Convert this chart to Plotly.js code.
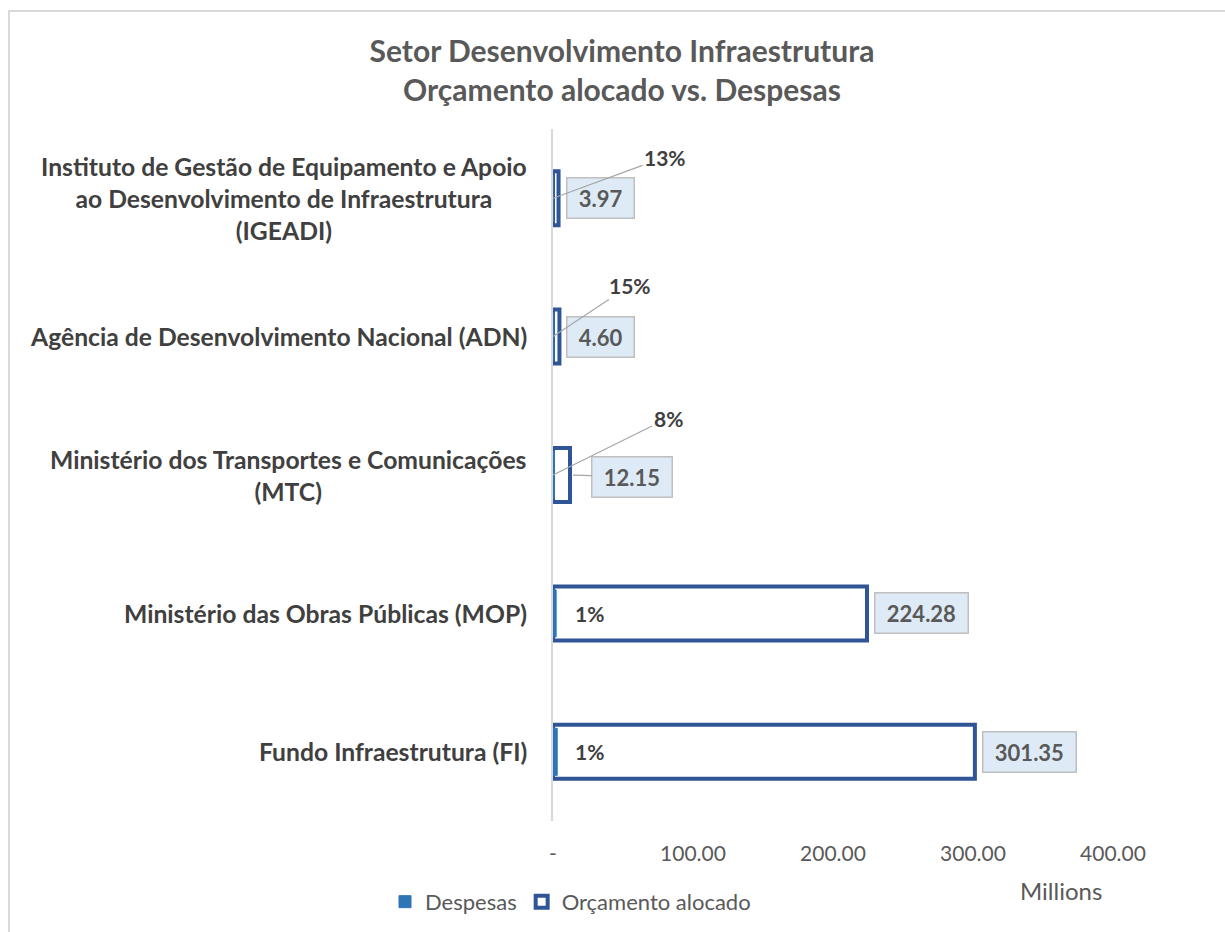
<!DOCTYPE html>
<html>
<head>
<meta charset="utf-8">
<script src="https://cdn.plot.ly/plotly-3.0.1.min.js"></script>
<style>
  body { margin: 0; background: #ffffff; overflow: hidden; }
  #chart { position: absolute; left: 0; top: 0; width: 1225px; height: 932px; }
  #frame { position: absolute; left: 8px; top: 10px; width: 1400px; height: 1100px;
           border: 2px solid #D9D9D9; pointer-events: none; }
</style>
</head>
<body>
<div id="chart"></div>
<div id="frame"></div>
<script>
// ---- data ----
const categories = [
  "Instituto de Gestão de Equipamento e Apoio<br>ao Desenvolvimento de Infraestrutura<br>(IGEADI)",
  "Agência de Desenvolvimento Nacional (ADN)",
  "Ministério dos Transportes e Comunicações<br>(MTC)",
  "Ministério das Obras Públicas (MOP)",
  "Fundo Infraestrutura (FI)"
];
const orcamentoAlocado = [3.97, 4.60, 12.15, 224.28, 301.35];   // millions
const despesas = [0.52, 0.69, 0.97, 2.24, 3.01];                // millions
const execucaoLabels = ["13%", "15%", "8%", "1%", "1%"];
const xTickVals = [0, 100, 200, 300, 400];
const xTickText = ["-", "100.00", "200.00", "300.00", "400.00"];

// ---- styling (not data) ----
const FONT = "Lato, 'Open Sans', sans-serif";
const NB = "\u00A0";
const pctInside = [false, false, false, true, true];
const pctOffsets = [[112, -41], [77, -51], [115, -57], null, null];
const valueLeader = [null, null, 62, null, null];   // pixel offset of label with a leader line

const traces = [
  {
    type: "bar", orientation: "h", name: "Orçamento alocado",
    y: categories, x: orcamentoAlocado, width: 0.39,
    marker: { color: "#FFFFFF", line: { color: "#2F5597", width: 4 } },
    hoverinfo: "x+y"
  },
  {
    type: "bar", orientation: "h", name: "Despesas",
    y: categories, x: despesas, width: 0.34,
    marker: { color: "#2E75B6", line: { color: "#2E75B6", width: 1 } },
    hoverinfo: "x+y"
  }
];

const annotations = [];
categories.forEach((c, i) => {
  // category label (centered multi-line block, right aligned to axis)
  annotations.push({
    xref: "paper", yref: "y", x: 0, y: c, xanchor: "right", yanchor: "middle",
    xshift: -24, align: "center", showarrow: false, text: c,
    font: { family: FONT, size: 24.7, color: "#404040", weight: "bold" }
  });
  // budget value label
  const valueAnn = {
    xref: "x", yref: "y", x: orcamentoAlocado[i], y: c,
    text: NB + orcamentoAlocado[i].toFixed(2) + NB,
    bgcolor: "#DEEBF7", bordercolor: "#BFBFBF", borderwidth: 1.5, borderpad: 6,
    font: { family: FONT, size: 22, color: "#595959", weight: "bold" }
  };
  if (valueLeader[i] !== null) {
    Object.assign(valueAnn, {
      showarrow: true, arrowhead: 0, arrowwidth: 1.2, arrowcolor: "#A6A6A6",
      ax: valueLeader[i], ay: 2, standoff: 3
    });
  } else {
    Object.assign(valueAnn, { showarrow: false, xanchor: "left", yanchor: "middle", xshift: 7 });
  }
  annotations.push(valueAnn);
  // execution percentage label
  if (pctInside[i]) {
    annotations.push({
      xref: "x", yref: "y", x: 0, y: c, xanchor: "left", yanchor: "middle",
      xshift: 20, showarrow: false, text: execucaoLabels[i],
      font: { family: FONT, size: 21, color: "#404040", weight: "bold" }
    });
  } else {
    annotations.push({
      xref: "x", yref: "y", x: 0, y: c, showarrow: true, arrowhead: 0,
      arrowwidth: 1.2, arrowcolor: "#A6A6A6", ax: pctOffsets[i][0], ay: pctOffsets[i][1],
      text: execucaoLabels[i], standoff: 0,
      font: { family: FONT, size: 21, color: "#404040", weight: "bold" }
    });
  }
});
annotations.push({
  xref: "paper", yref: "paper", x: (1061 - 553) / 560, y: -0.1, xanchor: "center", yanchor: "middle",
  showarrow: false, text: "Millions",
  font: { family: FONT, size: 24, color: "#595959" }
});

const layout = {
  width: 1225, height: 932,
  paper_bgcolor: "rgba(0,0,0,0)", plot_bgcolor: "rgba(0,0,0,0)",
  margin: { l: 553, r: 112, t: 129, b: 111, autoexpand: false },
  title: {
    text: "<b>Setor Desenvolvimento Infraestrutura<br>Orçamento alocado vs. Despesas</b>",
    x: 622 / 1225, xanchor: "center", y: 1 - 62 / 932, yanchor: "middle",
    font: { family: FONT, size: 30, color: "#595959" }
  },
  barmode: "overlay",
  xaxis: {
    range: [0, 400], tickvals: xTickVals, ticktext: xTickText,
    showgrid: false, zeroline: false, showline: false, ticks: "",
    ticklabelstandoff: 18,
    tickfont: { family: FONT, size: 21, color: "#595959" }
  },
  yaxis: {
    autorange: "reversed", showticklabels: false, showgrid: false, zeroline: false,
    showline: true, linecolor: "#D9D9D9", linewidth: 2, ticks: ""
  },
  showlegend: true,
  legend: {
    orientation: "h", traceorder: "reversed",
    x: (385 - 553) / 560, xanchor: "left", y: -0.0865, yanchor: "top",
    font: { family: FONT, size: 22, color: "#595959" },
    itemwidth: 30
  },
  annotations: annotations
};

Plotly.newPlot("chart", traces, layout, { displayModeBar: false, staticPlot: true });
</script>
</body>
</html>
